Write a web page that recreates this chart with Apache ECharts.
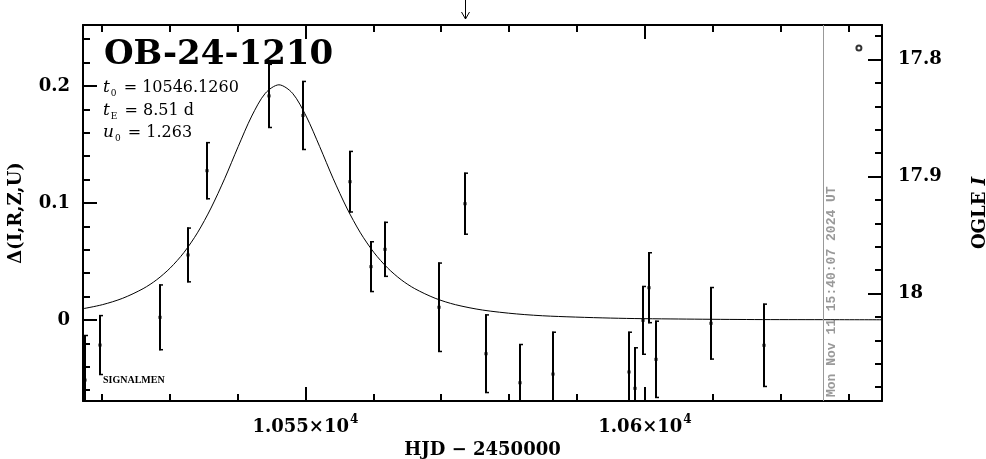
<!DOCTYPE html>
<html>
<head>
<meta charset="utf-8">
<script src="https://cdn.jsdelivr.net/npm/echarts@6/dist/echarts.min.js"></script>
<style>
html,body{margin:0;padding:0;background:#fff;overflow:hidden;}
#c{width:986px;height:459px;}
</style>
</head>
<body>
<div id="c"></div>
<script>
// ---- data ----
const xRange = [10517.25, 10634.9];          // HJD - 2450000
const deltaRange = [-0.0692, 0.2521];        // left axis
const magRange = [17.7705, 18.0919];         // right axis (OGLE I, inverted)

const xMajorTicks = [10550, 10600];
const xTickMantissa = ['1.055', '1.06'];
const xTickExponent = ['4', '4'];
const xMinorTicks = [10520, 10530, 10540, 10560, 10570, 10580, 10590, 10610, 10620, 10630];

const yLeftMajor = [0, 0.1, 0.2];
const yLeftLabels = ['0', '0.1', '0.2'];
const yLeftMinor = [-0.06, -0.04, -0.02, 0.02, 0.04, 0.06, 0.08, 0.12, 0.14, 0.16, 0.18, 0.22, 0.24];

const yRightMajor = [17.8, 17.9, 18.0];
const yRightLabels = ['17.8', '17.9', '18'];
const yRightMinor = [17.78, 17.82, 17.84, 17.86, 17.88, 17.92, 17.94, 17.96, 17.98, 18.02, 18.04, 18.06, 18.08];

// observations
const obsT = [10517.54, 10519.75, 10528.62, 10532.74, 10535.49, 10544.65, 10549.65, 10556.56, 10559.60, 10561.66, 10569.60,
              10573.57, 10576.66, 10581.66, 10586.51, 10597.65, 10598.57, 10599.65, 10600.63, 10601.62, 10609.65, 10617.59];
const obsDelta = [-0.0513, -0.0214, 0.0023, 0.0556, 0.1276, 0.1915, 0.1748, 0.1182, 0.0456, 0.0604, 0.0109,
                  0.0994, -0.0288, -0.0536, -0.0462, -0.0444, -0.0584, -0.0003, 0.0276, -0.0336, -0.0028, -0.0216];
const obsErr = [0.0385, 0.0256, 0.0281, 0.0234, 0.0244, 0.0274, 0.0295, 0.0263, 0.0217, 0.0235, 0.0382,
                0.0265, 0.0336, 0.0331, 0.0362, 0.0344, 0.0351, 0.0294, 0.0303, 0.0330, 0.0310, 0.0356];

// model curve
const modelT = [10517.1, 10520.1, 10523.1, 10526.1, 10528.1, 10530.1, 10532.1, 10534.1, 10536.1, 10538.1, 10540.1, 10542.1,
                10544.1, 10546.1, 10548.1, 10550.1, 10552.1, 10554.1, 10556.1, 10558.1, 10560.1, 10562.1, 10564.1, 10566.1,
                10569.1, 10572.1, 10576.1, 10581.1, 10586.1, 10596.1, 10606.1, 10616.1, 10626.1, 10635.1];
const modelDelta = [0.0095, 0.0131, 0.0186, 0.0268, 0.0344, 0.0445, 0.0576, 0.0745, 0.0957, 0.1207, 0.1482, 0.1743,
                    0.1938, 0.2010, 0.1938, 0.1743, 0.1482, 0.1207, 0.0957, 0.0745, 0.0576, 0.0445, 0.0344, 0.0268,
                    0.0186, 0.0131, 0.0085, 0.0052, 0.0033, 0.0015, 0.0008, 0.0004, 0.0003, 0.0002];

const extraPointT = [10631.5];
const extraPointDelta = [0.2325];
const nowT = [10626.26];
const nowLabel = ['Mon Nov 11 15:40:07 2024 UT'];
const arrowT = [10573.53];

const titleText = 'OB-24-1210';
const paramLines = [
  ['t', '0', ' = 10546.1260'],
  ['t', 'E', ' = 8.51 d'],
  ['u', '0', ' = 1.263']
];

// ---- chart ----
const SERIF = '"DejaVu Serif", serif';
const chart = echarts.init(document.getElementById('c'), null, {renderer: 'canvas', width: 986, height: 459});

function mkX(pos, ticks, len, withLabels, show) {
  return {
    type: 'value', position: pos, min: xRange[0], max: xRange[1], gridIndex: 0,
    axisLine: {show: show, onZero: false, lineStyle: {color: '#000', width: 2}},
    axisTick: {show: true, inside: true, length: len, customValues: ticks, lineStyle: {color: '#000', width: 2}},
    axisLabel: withLabels ? {
      show: true, customValues: ticks, margin: 13, color: '#000', fontFamily: SERIF, fontWeight: 'bold', fontSize: 18,
      formatter: v => {
        const i = ticks.indexOf(v);
        return '{m|' + xTickMantissa[i] + '×10}{p|' + xTickExponent[i] + '}';
      },
      rich: {
        m: {color: '#000', fontFamily: SERIF, fontWeight: 'bold', fontSize: 18, lineHeight: 22, verticalAlign: 'bottom'},
        p: {color: '#000', fontFamily: SERIF, fontWeight: 'bold', fontSize: 12, lineHeight: 22, verticalAlign: 'top', padding: [0, 0, 0, 1]}
      }
    } : {show: false},
    splitLine: {show: false}
  };
}
function mkY(pos, rng, inverse, ticks, len, labels, show, margin) {
  return {
    type: 'value', position: pos, min: rng[0], max: rng[1], inverse: inverse, gridIndex: 0,
    axisLine: {show: show, onZero: false, lineStyle: {color: '#000', width: 2}},
    axisTick: {show: true, inside: true, length: len, customValues: ticks, lineStyle: {color: '#000', width: 2}},
    axisLabel: labels ? {
      show: true, customValues: ticks, margin: margin, color: '#000', fontFamily: SERIF, fontWeight: 'bold', fontSize: 18,
      formatter: v => labels[ticks.indexOf(v)]
    } : {show: false},
    splitLine: {show: false}
  };
}

const xAxes = [
  mkX('bottom', xMajorTicks, 14, true, true),
  mkX('bottom', xMinorTicks, 7, false, false),
  mkX('top', xMajorTicks, 14, false, true),
  mkX('top', xMinorTicks, 7, false, false)
];
xAxes[0].name = 'HJD − 2450000';
xAxes[0].nameLocation = 'middle';
xAxes[0].nameGap = 34;
xAxes[0].nameTextStyle = {color: '#000', fontFamily: SERIF, fontWeight: 'bold', fontSize: 18};

const yAxes = [
  mkY('left', deltaRange, false, yLeftMajor, 14, yLeftLabels, true, 13),
  mkY('left', deltaRange, false, yLeftMinor, 7, null, false, 13),
  mkY('right', magRange, true, yRightMajor, 14, yRightLabels, true, 16),
  mkY('right', magRange, true, yRightMinor, 7, null, false, 16)
];
yAxes[0].name = 'Δ(I,R,Z,U)';
yAxes[0].nameLocation = 'middle';
yAxes[0].nameRotate = 90;
yAxes[0].nameGap = 58;
yAxes[0].nameTextStyle = {color: '#000', fontFamily: SERIF, fontWeight: 'bold', fontSize: 18};
yAxes[2].name = '{a|OGLE }{b|I}';
yAxes[2].nameLocation = 'middle';
yAxes[2].nameRotate = 90;
yAxes[2].nameGap = 89;
yAxes[2].nameTextStyle = {
  color: '#000', fontFamily: SERIF, fontWeight: 'bold', fontSize: 18,
  rich: {
    a: {color: '#000', fontFamily: SERIF, fontWeight: 'bold', fontSize: 18},
    b: {color: '#000', fontFamily: SERIF, fontWeight: 'bold', fontStyle: 'italic', fontSize: 18}
  }
};

function paramText(line, y) {
  return {
    type: 'text', x: 103, y: y, silent: true,
    style: {
      text: '{i|' + line[0] + '}{s|' + line[1] + '}{n|' + line[2] + '}',
      verticalAlign: 'middle', align: 'left',
      rich: {
        i: {fontFamily: SERIF, fontStyle: 'italic', fontSize: 17, fill: '#000', color: '#000', lineHeight: 20, verticalAlign: 'middle'},
        s: {fontFamily: SERIF, fontSize: 9, fill: '#000', color: '#000', lineHeight: 20, verticalAlign: 'bottom', padding: [0, 2, 0, 1]},
        n: {fontFamily: SERIF, fontSize: 16, fill: '#000', color: '#000', lineHeight: 20, verticalAlign: 'middle'}
      }
    }
  };
}

const obsData = obsT.map((t, i) => [t, obsDelta[i], obsErr[i]]);

const option = {
  animation: false,
  backgroundColor: '#fff',
  grid: {left: 83, right: 104, top: 25, bottom: 58, containLabel: false, outerBoundsMode: 'none'},
  xAxis: xAxes,
  yAxis: yAxes,
  graphic: [
    {type: 'text', x: 104, y: 55, silent: true,
     style: {text: titleText, font: 'bold 34px ' + SERIF, fill: '#000', verticalAlign: 'middle', align: 'left'}},
    paramText(paramLines[0], 88),
    paramText(paramLines[1], 111),
    paramText(paramLines[2], 133),
    {type: 'text', x: 103, y: 380, silent: true,
     style: {text: 'SIGNALMEN', font: 'bold 10px "Liberation Serif", serif', fill: '#000', verticalAlign: 'middle', align: 'left'}}
  ],
  series: [
    {
      type: 'line', xAxisIndex: 0, yAxisIndex: 0,
      data: modelT.map((t, i) => [t, modelDelta[i]]),
      showSymbol: false, smooth: 0.3, clip: true,
      lineStyle: {color: '#000', width: 1},
      silent: true
    },
    {
      type: 'custom', xAxisIndex: 0, yAxisIndex: 0, clip: true,
      data: obsData,
      renderItem: function (params, api) {
        const t = api.value(0), d = api.value(1), e = api.value(2);
        const c = api.coord([t, d]);
        const top = api.coord([t, d + e]);
        const bot = api.coord([t, d - e]);
        const x = Math.round(c[0]);
        const st = {stroke: '#000', lineWidth: 2};
        return {
          type: 'group',
          children: [
            {type: 'line', shape: {x1: x, y1: top[1], x2: x, y2: bot[1]}, style: st},
            {type: 'line', shape: {x1: x - 1, y1: top[1] + 0.5, x2: x + 3, y2: top[1] + 0.5}, style: {stroke: '#000', lineWidth: 1.5}},
            {type: 'line', shape: {x1: x - 1, y1: bot[1] - 0.5, x2: x + 3, y2: bot[1] - 0.5}, style: {stroke: '#000', lineWidth: 1.5}},
            {type: 'rect', shape: {x: x - 1.5, y: c[1] - 1.5, width: 3, height: 3}, style: {fill: '#000'}}
          ]
        };
      },
      silent: true
    },
    {
      type: 'scatter', xAxisIndex: 0, yAxisIndex: 0,
      data: extraPointT.map((t, i) => [t, extraPointDelta[i]]),
      symbol: 'circle', symbolSize: 5,
      itemStyle: {color: '#fff', borderColor: '#000', borderWidth: 2},
      silent: true,
      markLine: {
        silent: true, symbol: 'none', animation: false,
        lineStyle: {color: '#999', width: 1, type: 'solid'},
        label: {show: false},
        data: nowT.map(t => ({xAxis: t}))
      }
    }
  ]
};
chart.setOption(option);

// elements placed through the axis scale
const nowPx = chart.convertToPixel({xAxisIndex: 0}, nowT[0]);
const arrowPx = Math.round(chart.convertToPixel({xAxisIndex: 0}, arrowT[0])) + 0.5;
chart.setOption({
  graphic: [
    {type: 'text', id: 'nowtext', x: nowPx + 2, y: 397, rotation: Math.PI / 2, silent: true,
     style: {text: nowLabel[0], x: 0, y: 0, align: 'left', verticalAlign: 'top',
             font: 'bold 13px "Liberation Mono", monospace', fill: '#999999'}},
    {type: 'polyline', id: 'arrowshaft', silent: true,
     shape: {points: [[arrowPx, 0], [arrowPx, 19]]}, style: {stroke: '#000', lineWidth: 1, fill: null}},
    {type: 'polyline', id: 'arrowhead', silent: true,
     shape: {points: [[arrowPx - 4, 12], [arrowPx, 19], [arrowPx + 4, 12]]}, style: {stroke: '#000', lineWidth: 1, fill: null}}
  ]
});
</script>
</body>
</html>
